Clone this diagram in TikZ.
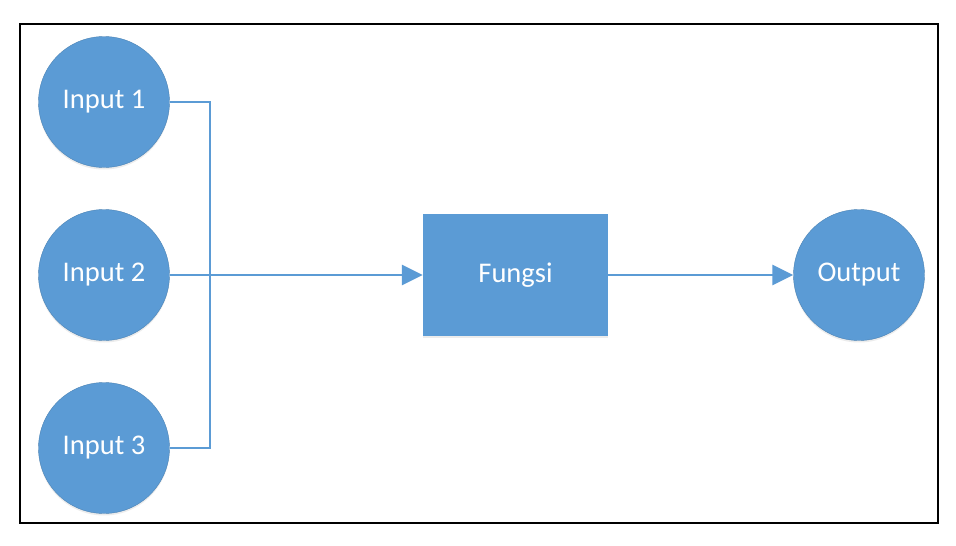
\documentclass[tikz,border=0pt]{standalone}
\usepackage{fontspec}
\setmainfont{Carlito}
\usetikzlibrary{arrows.meta,shadows}
\definecolor{obl}{HTML}{5B9BD5}
\definecolor{lbl}{HTML}{5B9BD5}
\tikzset{
  blob/.style={circle, fill=obl, draw=obl!85!black, line width=0.4pt, minimum size=131pt, inner sep=0pt, text=white, font=\fontsize{28.5}{32}\selectfont, drop shadow={shadow xshift=0pt, shadow yshift=-2pt, opacity=0.15}},
  boxnode/.style={rectangle, fill=obl, minimum width=185pt, minimum height=122pt, inner sep=0pt, text=white, font=\fontsize{28.5}{32}\selectfont, drop shadow={shadow xshift=0pt, shadow yshift=-2pt, opacity=0.15}},
  wire/.style={draw=lbl, line width=2.3pt},
  flow/.style={draw=lbl, line width=2.8pt, -{Triangle[length=21pt,width=20pt]}},
}
\begin{document}
\begin{tikzpicture}[x=1pt,y=-1pt]
\useasboundingbox (0,0) rectangle (956,546);
\fill[white] (0,0) rectangle (956,546);
\draw[black, line width=1.3pt] (20,24) rectangle (938,523);
\node[blob] (in1) at (104,102) {Input 1};
\node[blob] (in2) at (104,275) {Input 2};
\node[blob] (in3) at (104,448) {Input 3};
\node[boxnode] (f) at (515.5,275) {Fungsi};
\node[blob] (out) at (859,275) {Output};
\coordinate (j1) at (210,102);
\coordinate (j3) at (210,448);
\draw[wire] (in1.east) -- (j1) -- (j3) -- (in3.east);
\draw[flow] (in2.east) -- (f.west);
\draw[flow] (f.east) -- (out.west);
\end{tikzpicture}
\end{document}
